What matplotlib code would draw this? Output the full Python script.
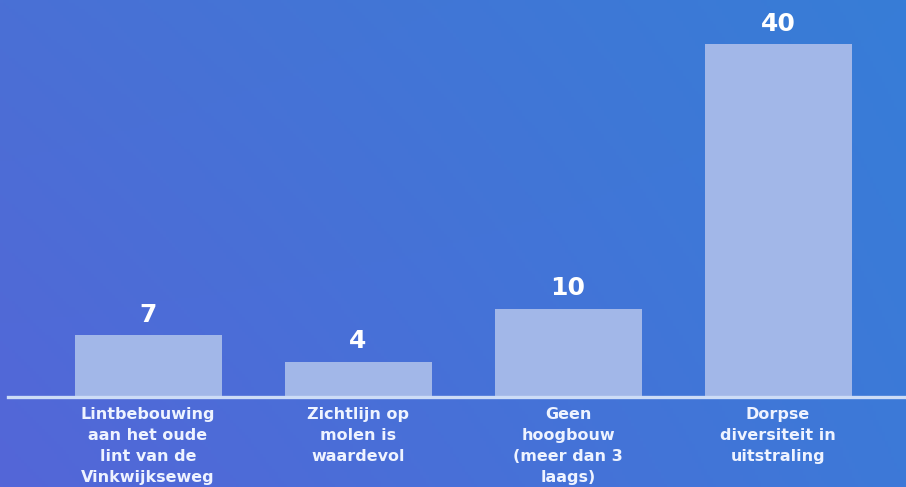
import numpy as np
import matplotlib
matplotlib.use("Agg")
import matplotlib.pyplot as plt
from matplotlib.colors import to_rgb

categories = [
    "Lintbebouwing\naan het oude\nlint van de\nVinkwijkseweg",
    "Zichtlijn op\nmolen is\nwaardevol",
    "Geen\nhoogbouw\n(meer dan 3\nlaags)",
    "Dorpse\ndiversiteit in\nuitstraling",
]
values = [7, 4, 10, 40]

W, H, DPI = 906, 487, 100
fig = plt.figure(figsize=(W / DPI, H / DPI), dpi=DPI)

# blue gradient background, blended between four corner colours
bg = fig.add_axes([0, 0, 1, 1])
bg.set_axis_off()
tl, tr = np.array(to_rgb("#4a70d5")), np.array(to_rgb("#377dd7"))
bl, br = np.array(to_rgb("#5466d8")), np.array(to_rgb("#3d79d8"))
u = np.linspace(0, 1, 300)[None, :, None]
v = np.linspace(0, 1, 160)[:, None, None]
img = (1 - v) * ((1 - u) * tl + u * tr) + v * ((1 - u) * bl + u * br)
bg.imshow(img, aspect="auto", extent=(0, 1, 0, 1), origin="upper")

ax = fig.add_axes([0, 0, 1, 1])
ax.patch.set_alpha(0)
ax.set_axis_off()

x = np.arange(len(values))
ax.set_xlim(-148 / 210, (W - 148) / 210)
px_per_unit = 353 / 40
ax.set_ylim(-(H - 397) / px_per_unit, 397 / px_per_unit)

ax.bar(x, values, width=0.70, color="#a2b7e8", zorder=2)
ax.axhline(0, xmin=8 / W, xmax=1, color="#cddcf6", linewidth=2.4, zorder=3)

font = "DejaVu Sans"
for xi, val in zip(x, values):
    ax.annotate(str(val), (xi, val), xytext=(0, 6), textcoords="offset points",
                ha="center", va="bottom", color="white", fontsize=18,
                fontweight="bold", family=font)

for xi, lab in zip(x, categories):
    ax.annotate(lab, (xi, 0), xytext=(0, -7), textcoords="offset points",
                ha="center", va="top", color="#eef3ff", fontsize=11.5,
                fontweight="bold", family=font, linespacing=1.5)

fig.savefig("out.png", dpi=DPI)
